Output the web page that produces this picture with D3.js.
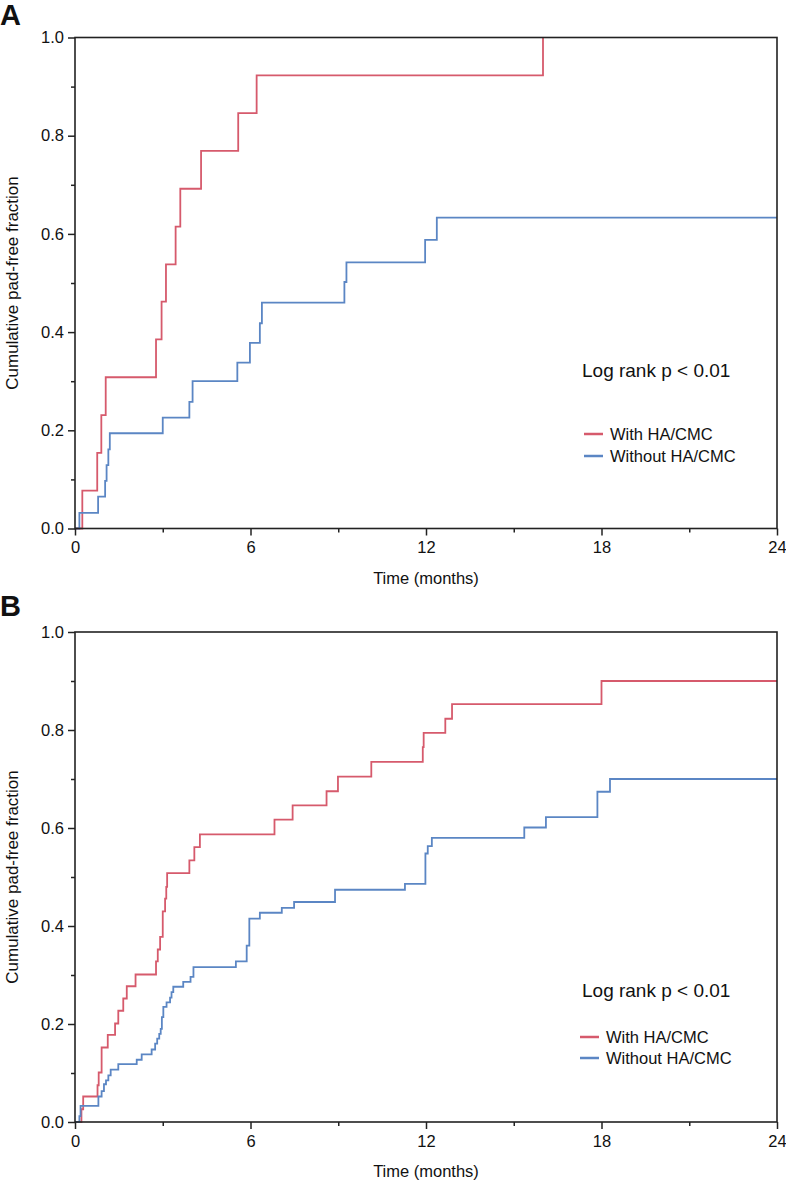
<!DOCTYPE html>
<html><head><meta charset="utf-8">
<script src="https://cdn.jsdelivr.net/npm/d3@7"></script>
<style>
html,body{margin:0;padding:0;background:#fff;}
text{font-family:"Liberation Sans",Arial,Helvetica,sans-serif;fill:#111;}
</style></head>
<body>
<svg id="chart" width="786" height="1182"></svg>
<script>
// ---- data ----
const timeTicks = [0, 6, 12, 18, 24];
const timeMinorTicks = [3, 9, 15, 21];
const fracTicks = [0, 0.2, 0.4, 0.6, 0.8, 1.0];
const fracMinorTicks = [0.1, 0.3, 0.5, 0.7, 0.9];
const seriesNames = ["With HA/CMC", "Without HA/CMC"];
const seriesColors = ["#d65a6c", "#5b86c4"];
const pText = "Log rank p < 0.01";
const xLabel = "Time (months)";
const yLabel = "Cumulative pad-free fraction";

// Panel A
const aWithT = [0, 0.25, 0.76, 0.90, 1.05, 2.77, 2.96, 3.11, 3.44, 3.60, 4.31, 5.58, 6.21, 16.0];
const aWithV = [0, 0.077, 0.154, 0.231, 0.308, 0.385, 0.462, 0.538, 0.615, 0.692, 0.769, 0.846, 0.923, 1.0];
const aWithoutT = [0, 0.15, 0.79, 1.03, 1.08, 1.14, 1.19, 3.0, 3.91, 4.02, 5.55, 5.98, 6.32, 6.39, 9.21, 9.28, 11.97, 12.37, 24];
const aWithoutV = [0, 0.032, 0.065, 0.097, 0.129, 0.161, 0.194, 0.226, 0.258, 0.30, 0.338, 0.378, 0.418, 0.46, 0.502, 0.542, 0.588, 0.633, 0.633];

// Panel B
const bWithT = [0, 0.22, 0.28, 0.77, 0.81, 0.91, 1.12, 1.37, 1.48, 1.65, 1.77, 2.07, 2.77, 2.83, 2.91, 3.00, 3.08, 3.12, 3.15, 3.91, 4.08, 4.27, 6.82, 7.44, 8.6, 8.99, 10.13, 11.89, 11.92, 12.66, 12.89, 18.0, 24];
const bWithV = [0, 0.026, 0.052, 0.075, 0.101, 0.152, 0.178, 0.201, 0.227, 0.252, 0.277, 0.301, 0.328, 0.352, 0.378, 0.43, 0.456, 0.48, 0.508, 0.534, 0.561, 0.587, 0.617, 0.646, 0.675, 0.705, 0.735, 0.765, 0.794, 0.823, 0.853, 0.90, 0.90];
const bWithoutT = [0, 0.15, 0.19, 0.8, 0.91, 0.99, 1.06, 1.14, 1.22, 1.48, 2.11, 2.28, 2.62, 2.74, 2.81, 2.88, 2.93, 2.97, 3.02, 3.13, 3.25, 3.30, 3.36, 3.70, 3.95, 4.05, 5.50, 5.87, 5.96, 6.32, 7.07, 7.49, 8.89, 11.28, 11.98, 12.06, 12.2, 15.36, 16.1, 17.86, 18.29, 24];
const bWithoutV = [0, 0.012, 0.033, 0.052, 0.063, 0.077, 0.085, 0.095, 0.107, 0.118, 0.127, 0.138, 0.148, 0.160, 0.170, 0.180, 0.190, 0.214, 0.235, 0.244, 0.254, 0.265, 0.276, 0.286, 0.296, 0.316, 0.328, 0.36, 0.415, 0.427, 0.437, 0.449, 0.474, 0.486, 0.548, 0.563, 0.580, 0.601, 0.622, 0.674, 0.70, 0.70];

// ---- drawing ----
const svg = d3.select("#chart");
const left = 75, right = 777;

function drawPanel(cfg) {
  const x = d3.scaleLinear().domain([0, 24]).range([left, right]);
  const y = d3.scaleLinear().domain([0, 1]).range([cfg.bottom, cfg.top]);
  const g = svg.append("g");

  // panel letter
  g.append("text").attr("x", 0).attr("y", cfg.letterY)
    .style("font-size", "29px").style("font-weight", "bold").text(cfg.letter);

  // curves
  const line = d3.line().x(d => x(d[0])).y(d => y(d[1])).curve(d3.curveStepAfter);
  cfg.series.forEach((s, i) => {
    const pts = s.t.map((t, k) => [t, s.v[k]]);
    g.append("path").attr("d", line(pts)).attr("fill", "none")
      .attr("stroke", seriesColors[i]).attr("stroke-width", 1.8);
  });

  // frame
  g.append("rect").attr("x", left).attr("y", cfg.top)
    .attr("width", right - left).attr("height", cfg.bottom - cfg.top)
    .attr("fill", "none").attr("stroke", "#222").attr("stroke-width", 1.6);

  // x axis
  const xa = g.append("g").attr("transform", `translate(0,${cfg.bottom})`)
    .call(d3.axisBottom(x).tickValues(timeTicks).tickSize(7).tickPadding(6).tickFormat(d3.format("d")));
  xa.select(".domain").remove();
  xa.selectAll("line").attr("stroke", "#222").attr("stroke-width", 1.5);
  xa.selectAll("text").style("font-size", "16.5px").style("font-family", "Liberation Sans, Arial, sans-serif").attr("fill", "#111");
  const xm = g.append("g").attr("transform", `translate(0,${cfg.bottom})`)
    .call(d3.axisBottom(x).tickValues(timeMinorTicks).tickSize(4).tickFormat(""));
  xm.select(".domain").remove();
  xm.selectAll("line").attr("stroke", "#222").attr("stroke-width", 1.5);

  // y axis
  const ya = g.append("g").attr("transform", `translate(${left},0)`)
    .call(d3.axisLeft(y).tickValues(fracTicks).tickSize(7).tickPadding(4).tickFormat(d3.format(".1f")));
  ya.select(".domain").remove();
  ya.selectAll("line").attr("stroke", "#222").attr("stroke-width", 1.5);
  ya.selectAll("text").style("font-size", "16.5px").style("font-family", "Liberation Sans, Arial, sans-serif").attr("fill", "#111");
  const ym = g.append("g").attr("transform", `translate(${left},0)`)
    .call(d3.axisLeft(y).tickValues(fracMinorTicks).tickSize(4).tickFormat(""));
  ym.select(".domain").remove();
  ym.selectAll("line").attr("stroke", "#222").attr("stroke-width", 1.5);

  // axis titles
  g.append("text").attr("x", (left + right) / 2).attr("y", cfg.bottom + 55)
    .attr("text-anchor", "middle").style("font-size", "16.5px").text(xLabel);
  g.append("text").attr("transform", `translate(18,${(cfg.top + cfg.bottom) / 2}) rotate(-90)`)
    .attr("text-anchor", "middle").style("font-size", "17px").text(yLabel);

  // p value and legend
  g.append("text").attr("x", cfg.pX).attr("y", cfg.pY).style("font-size", "19px").text(pText);
  seriesNames.forEach((n, i) => {
    const ly = cfg.legY + i * cfg.legGap;
    g.append("line").attr("x1", cfg.legX).attr("x2", cfg.legX + 19)
      .attr("y1", ly).attr("y2", ly).attr("stroke", seriesColors[i]).attr("stroke-width", 2.5);
    g.append("text").attr("x", cfg.legX + 26).attr("y", ly).attr("dy", "0.35em")
      .style("font-size", "16.5px").text(n);
  });
}

drawPanel({
  letter: "A", letterY: 25, top: 37.5, bottom: 528.5,
  series: [{t: aWithT, v: aWithV}, {t: aWithoutT, v: aWithoutV}],
  pX: 582, pY: 377, legX: 584, legY: 434, legGap: 22
});
drawPanel({
  letter: "B", letterY: 616, top: 632, bottom: 1122,
  series: [{t: bWithT, v: bWithV}, {t: bWithoutT, v: bWithoutV}],
  pX: 582, pY: 997, legX: 580, legY: 1037, legGap: 21
});
</script>
</body></html>
